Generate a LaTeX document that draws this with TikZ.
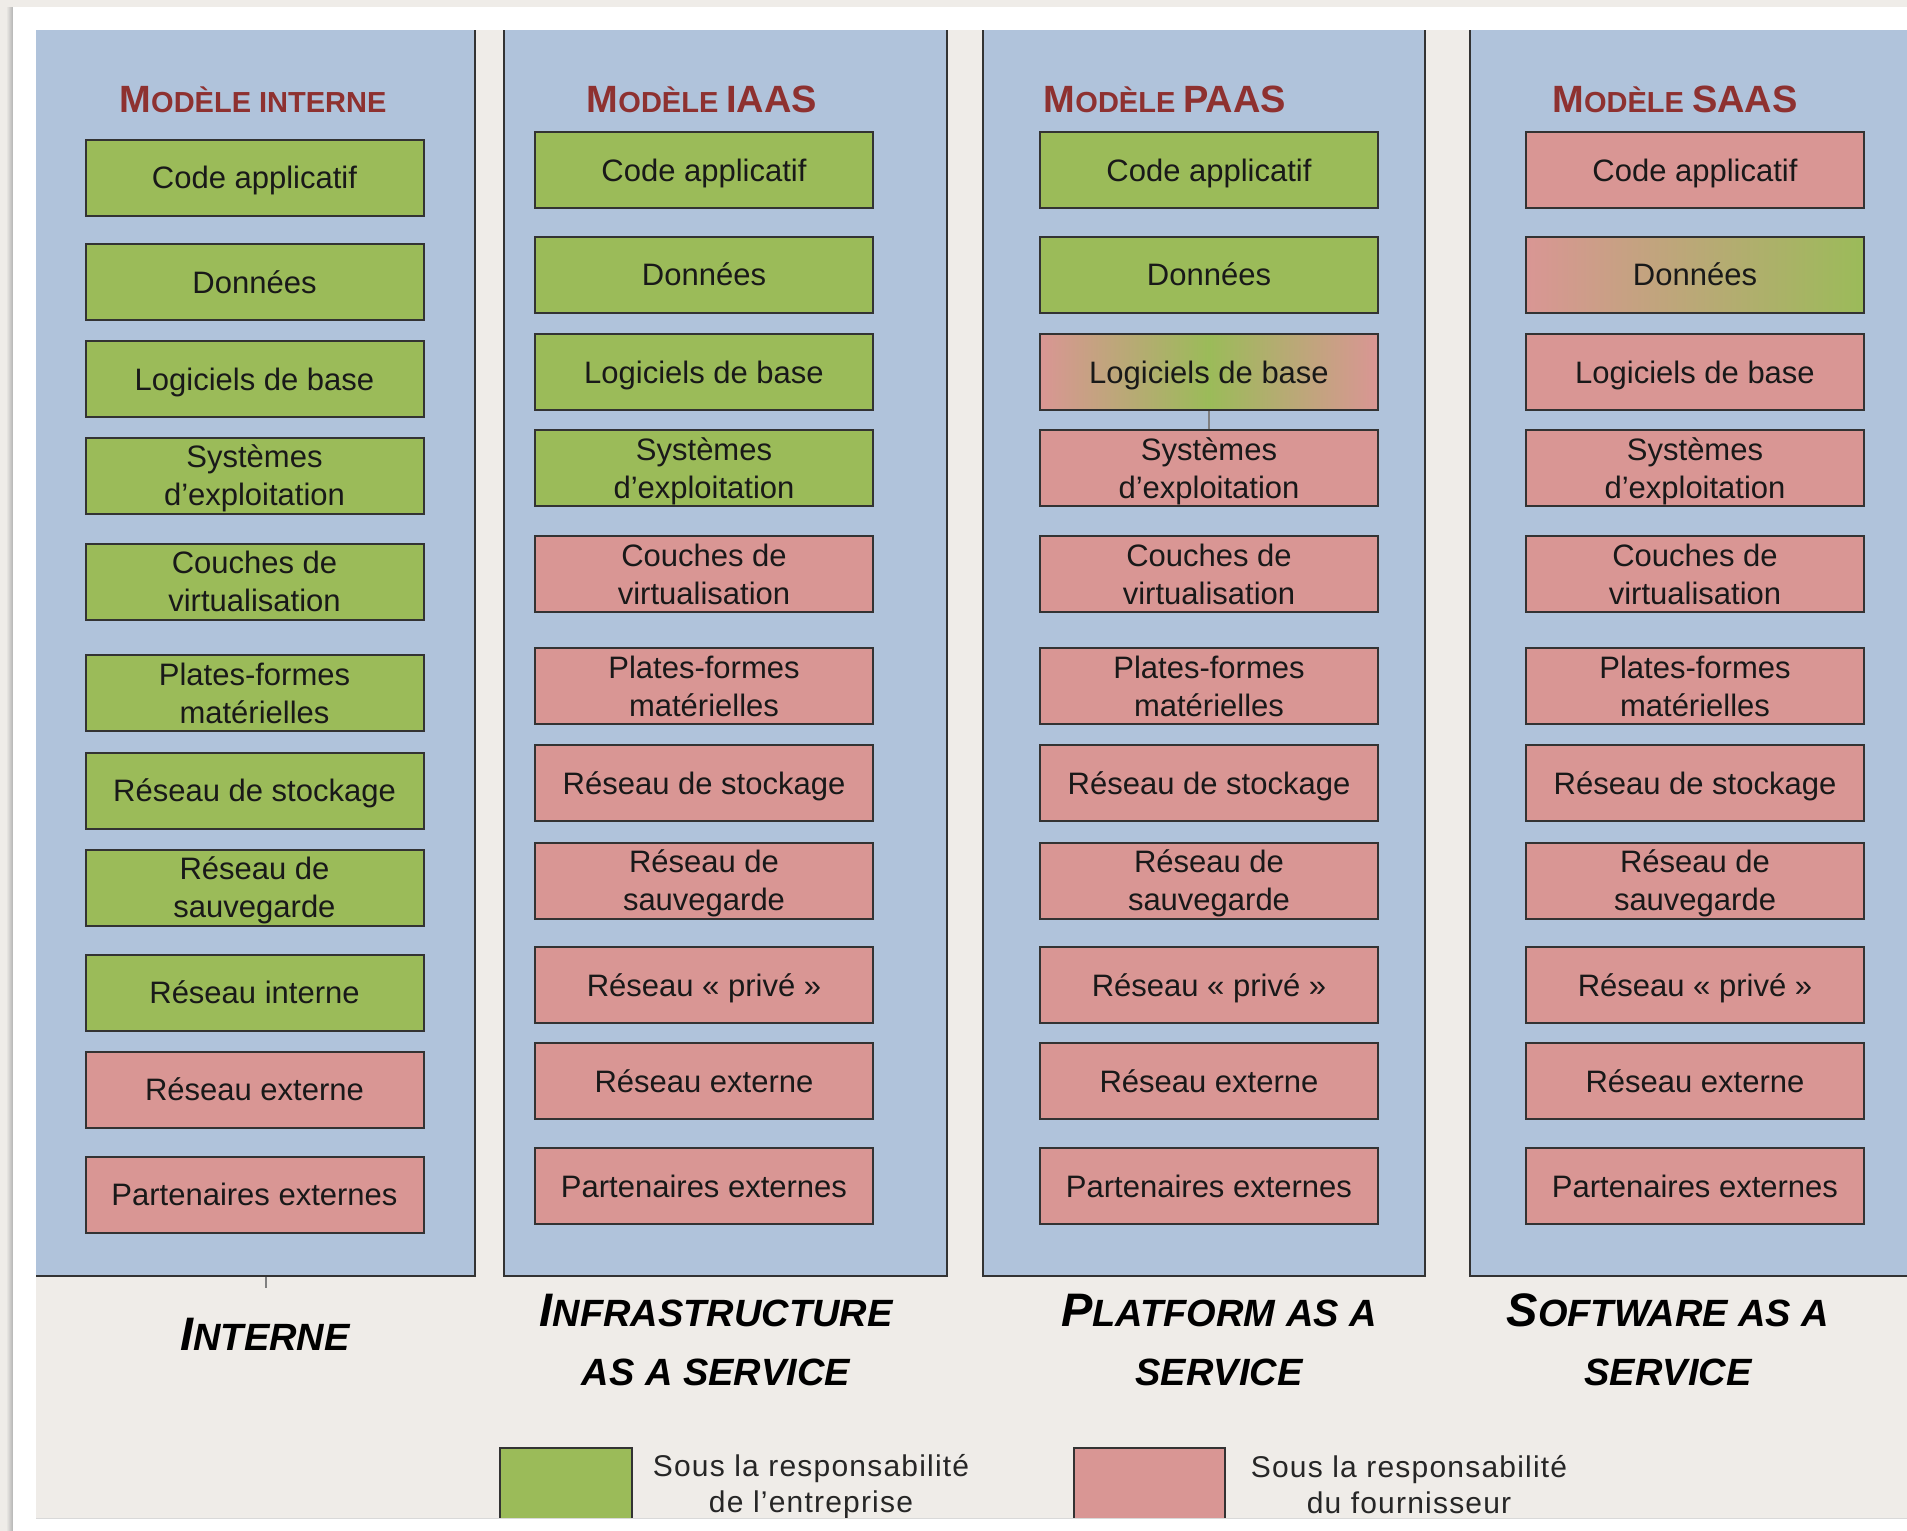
\documentclass[tikz,border=0pt]{standalone}
\usepackage{fontspec}
\usepackage{xcolor}
\usepackage{tikz}
\setmainfont{Liberation Sans}

\definecolor{fond}{HTML}{EFECE8}
\definecolor{bleu}{HTML}{B0C3DB}
\definecolor{vert}{HTML}{9BBB59}
\definecolor{rouge}{HTML}{D99694}
\definecolor{titre}{HTML}{8E3130}
\definecolor{trait}{HTML}{333333}

\newcommand\scpt[2]{{\fontsize{19}{22}\selectfont #1}{\fontsize{14.5}{22}\selectfont #2}}
\newcommand\scgd[2]{{\fontsize{23.5}{28}\selectfont #1}{\fontsize{19}{28}\selectfont #2}}

\begin{document}
\begin{tikzpicture}[x=0.5pt,y=-0.5pt,
   case/.style={draw=trait,line width=1pt,minimum width=169pt,minimum height=38pt,
     inner sep=0pt,text depth=0pt,align=center,text=black!90,font=\fontsize{15.5}{19}\selectfont},
   entreprise/.style={case,fill=vert},
   fournisseur/.style={case,fill=rouge},
   mixte/.style={case,left color=rouge,right color=rouge,middle color=vert},
   transition/.style={case,left color=rouge,right color=vert},
   colonne/.style={draw=trait,line width=1.2pt,fill=bleu,inner sep=0pt,minimum height=638pt},
   modele/.style={text=titre,font=\bfseries,anchor=base},
   service/.style={font=\bfseries\itshape\fontsize{19}{29.5}\selectfont,align=center},
   legende/.style={align=center,text=black!85,
     font=\fontsize{15}{18}\selectfont\addfontfeature{LetterSpace=4}},
   lien/.style={draw=black!50,line width=0.6pt}]

  \useasboundingbox (0,0) rectangle (1907,1531);
  \fill[fond] (0,0) rectangle (1907,1531);
  \fill[left color=fond,right color=black!30] (6,7) rectangle (13,1531);
  \fill[white] (13,7) rectangle (1907,1531);

  \begin{scope}
  \clip (36,30) rectangle (1907,1518);
  \fill[fond] (36,30) rectangle (1907,1518);

  \node[colonne,minimum width=227.5pt] (cint) at (247.5,638) {};
  \node[colonne,minimum width=221.5pt] (ciaas) at (725.5,638) {};
  \node[colonne,minimum width=221pt] (cpaas) at (1204,638) {};
  \node[colonne,minimum width=265pt] (csaas) at (1735,638) {};

  \node[modele] (tint) at (253,112) {\scpt{M}{ODÈLE INTERNE}};
  \node[modele] (tiaas) at (702,112) {\scpt{M}{ODÈLE }\scpt{IAAS}{}};
  \node[modele] (tpaas) at (1165,112) {\scpt{M}{ODÈLE }\scpt{PAAS}{}};
  \node[modele] (tsaas) at (1675,112) {\scpt{M}{ODÈLE }\scpt{SAAS}{}};

  \foreach \y/\s/\t [count=\i] in {177.5/entreprise/Code applicatif,
      282/entreprise/Données, 379/entreprise/Logiciels de base,
      475.5/entreprise/{Systèmes\\d’exploitation},
      581.5/entreprise/{Couches de\\virtualisation},
      693/entreprise/{Plates-formes\\matérielles},
      790.5/entreprise/Réseau de stockage,
      887.5/entreprise/{Réseau de\\sauvegarde},
      992.5/entreprise/Réseau interne, 1089.5/fournisseur/Réseau externe,
      1194.5/fournisseur/Partenaires externes}
    \node[\s] (int\i) at (254.5,\y) {\t};

  \foreach \y/\t/\sa/\sb/\sc [count=\i] in {
      170/Code applicatif/entreprise/entreprise/fournisseur,
      274.5/Données/entreprise/entreprise/transition,
      372/Logiciels de base/entreprise/mixte/fournisseur,
      468/{Systèmes\\d’exploitation}/entreprise/fournisseur/fournisseur,
      574/{Couches de\\virtualisation}/fournisseur/fournisseur/fournisseur,
      686/{Plates-formes\\matérielles}/fournisseur/fournisseur/fournisseur,
      783/Réseau de stockage/fournisseur/fournisseur/fournisseur,
      880.5/{Réseau de\\sauvegarde}/fournisseur/fournisseur/fournisseur,
      985/Réseau «~privé~»/fournisseur/fournisseur/fournisseur,
      1081/Réseau externe/fournisseur/fournisseur/fournisseur,
      1186/Partenaires externes/fournisseur/fournisseur/fournisseur} {
    \node[\sa] (iaas\i) at (704,\y) {\t};
    \node[\sb] (paas\i) at (1209,\y) {\t};
    \node[\sc] (saas\i) at (1695,\y) {\t};
  }

  \draw[lien] (paas3.south) -- (paas4.north);
  \coordinate (repere) at (266,1288);
  \draw[lien] (repere |- cint.south) -- (repere);

  \node[service] (lint) at (265,1334.5) {\scgd{I}{NTERNE}};
  \node[service] (liaas) at (716,1340) {\scgd{I}{NFRASTRUCTURE}\\\scgd{}{AS A SERVICE}};
  \node[service] (lpaas) at (1219,1340) {\scgd{P}{LATFORM AS A}\\\scgd{}{SERVICE}};
  \node[service] (lsaas) at (1668,1340) {\scgd{S}{OFTWARE AS A}\\\scgd{}{SERVICE}};

  \node[case,fill=vert,minimum width=66pt,minimum height=50pt,anchor=north west] (lgvert) at (499,1447) {};
  \node[case,fill=rouge,minimum width=75.5pt,minimum height=50pt,anchor=north west] (lgrouge) at (1073,1447) {};
  \node[legende] (txvert) at (811,1487) {Sous la responsabilité\\de l’entreprise};
  \node[legende] (txrouge) at (1409,1485) {Sous la responsabilité\\du fournisseur};
  \end{scope}
  \draw[black!15,line width=0.5pt] (36,1518.5) -- (1907,1518.5);
\end{tikzpicture}
\end{document}
